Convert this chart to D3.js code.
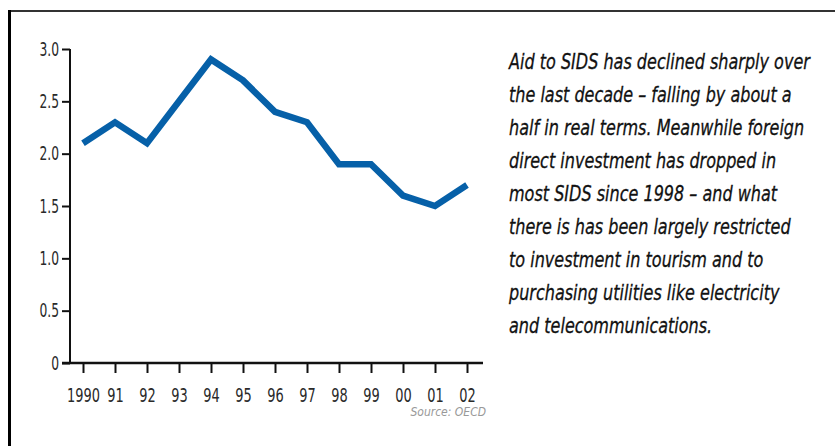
<!DOCTYPE html>
<html>
<head>
<meta charset="utf-8">
<script src="https://cdn.jsdelivr.net/npm/d3@7"></script>
<style>
	html, body { margin: 0; padding: 0; background: #fff; }
	svg { display: block; }
</style>
</head>
<body>
<div id="chart"></div>
<script>
var years = ["1990", "91", "92", "93", "94", "95", "96", "97", "98", "99", "00", "01", "02"];
var aidValues = [2.1, 2.3, 2.1, 2.5, 2.9, 2.7, 2.4, 2.3, 1.9, 1.9, 1.6, 1.5, 1.7];
var yTickValues = [0, 0.5, 1.0, 1.5, 2.0, 2.5, 3.0];
var noteLines = [
	"Aid to SIDS has declined sharply over",
	"the last decade \u2013 falling by about a",
	"half in real terms. Meanwhile foreign",
	"direct investment has dropped in",
	"most SIDS since 1998 \u2013 and what",
	"there is has been largely restricted",
	"to investment in tourism and to",
	"purchasing utilities like electricity",
	"and telecommunications."
];
var sourceText = "Source: OECD";

(function () {
	"use strict";
	var width = 835,
	height = 446,
	fontNarrow = "'DejaVu Sans Condensed', 'Liberation Sans Narrow', sans-serif",
	squeeze = 0.72;

	var svg = d3.select("#chart").append("svg")
		.attr("width", width)
		.attr("height", height);

	// frame: only top and left edges show in the crop
	svg.append("line")
		.attr("x1", 9).attr("x2", width).attr("y1", 11).attr("y2", 11)
		.attr("stroke", "#333").attr("stroke-width", 2);
	svg.append("line")
		.attr("x1", 9.5).attr("x2", 9.5).attr("y1", 10).attr("y2", height)
		.attr("stroke", "#000").attr("stroke-width", 3);

	var xScale = d3.scalePoint()
		.domain(years)
		.range([83, 467]);

	var yScale = d3.scaleLinear()
		.domain([0, 3])
		.range([363, 49]);

	var yAxis = d3.axisLeft(yScale)
		.tickValues(yTickValues)
		.tickSize(8)
		.tickPadding(3)
		.tickFormat(function (d) {
			return d === 0 ? "0" : d3.format(".1f")(d);
		});

	var xAxis = d3.axisBottom(xScale)
		.tickSize(10)
		.tickPadding(15);

	var gy = svg.append("g")
		.attr("transform", "translate(70,0)")
		.call(yAxis);
	gy.select(".domain").remove();
	gy.append("line")
		.attr("x1", 0).attr("x2", 0)
		.attr("y1", yScale(3)).attr("y2", yScale(0))
		.attr("stroke", "#111").attr("stroke-width", 2);

	var gx = svg.append("g")
		.attr("transform", "translate(0," + yScale(0) + ")")
		.call(xAxis);
	gx.select(".domain").remove();
	gx.append("line")
		.attr("x1", 62).attr("x2", 483)
		.attr("y1", 0).attr("y2", 0)
		.attr("stroke", "#111").attr("stroke-width", 2.5);

	svg.selectAll(".tick line")
		.attr("stroke", "#111")
		.attr("stroke-width", 2);
	svg.selectAll(".tick text")
		.style("font-family", fontNarrow)
		.style("font-size", "19px")
		.attr("fill", "#2a2a2a");
	gx.selectAll(".tick text")
		.style("font-size", "20px");

	// squeeze the tick labels to the narrow face of the original
	gx.selectAll(".tick text")
		.attr("transform", "scale(" + squeeze + ",1)");
	gy.selectAll(".tick text")
		.attr("x", -11 / squeeze)
		.attr("transform", "scale(" + squeeze + ",1)");

	var line = d3.line()
		.x(function (d, i) { return xScale(years[i]); })
		.y(function (d) { return yScale(d); });

	svg.append("path")
		.datum(aidValues)
		.attr("d", line)
		.attr("fill", "none")
		.attr("stroke", "#0660a8")
		.attr("stroke-width", 6.5)
		.attr("stroke-linejoin", "miter");

	svg.append("text")
		.attr("x", 486)
		.attr("y", 416)
		.attr("text-anchor", "end")
		.style("font-family", fontNarrow)
		.style("font-size", "12px")
		.style("font-style", "italic")
		.attr("fill", "#999")
		.text(sourceText);

	// side note, scaled so the first line spans the same width as in the original
	var note = svg.append("g");
	var noteText = note.selectAll("text")
		.data(noteLines)
		.enter()
		.append("text")
		.attr("x", 0)
		.attr("y", function (d, i) { return 69 + i * 33; })
		.style("font-family", fontNarrow)
		.style("font-size", "22px")
		.style("font-style", "italic")
		.attr("fill", "#111")
		.attr("stroke", "#111")
		.attr("stroke-width", 0.3)
		.text(function (d) { return d; });

	var firstWidth = noteText.node().getComputedTextLength();
	var k = 301 / firstWidth;
	note.attr("transform", "translate(509,0) scale(" + k + ",1)");
})();
</script>
</body>
</html>
